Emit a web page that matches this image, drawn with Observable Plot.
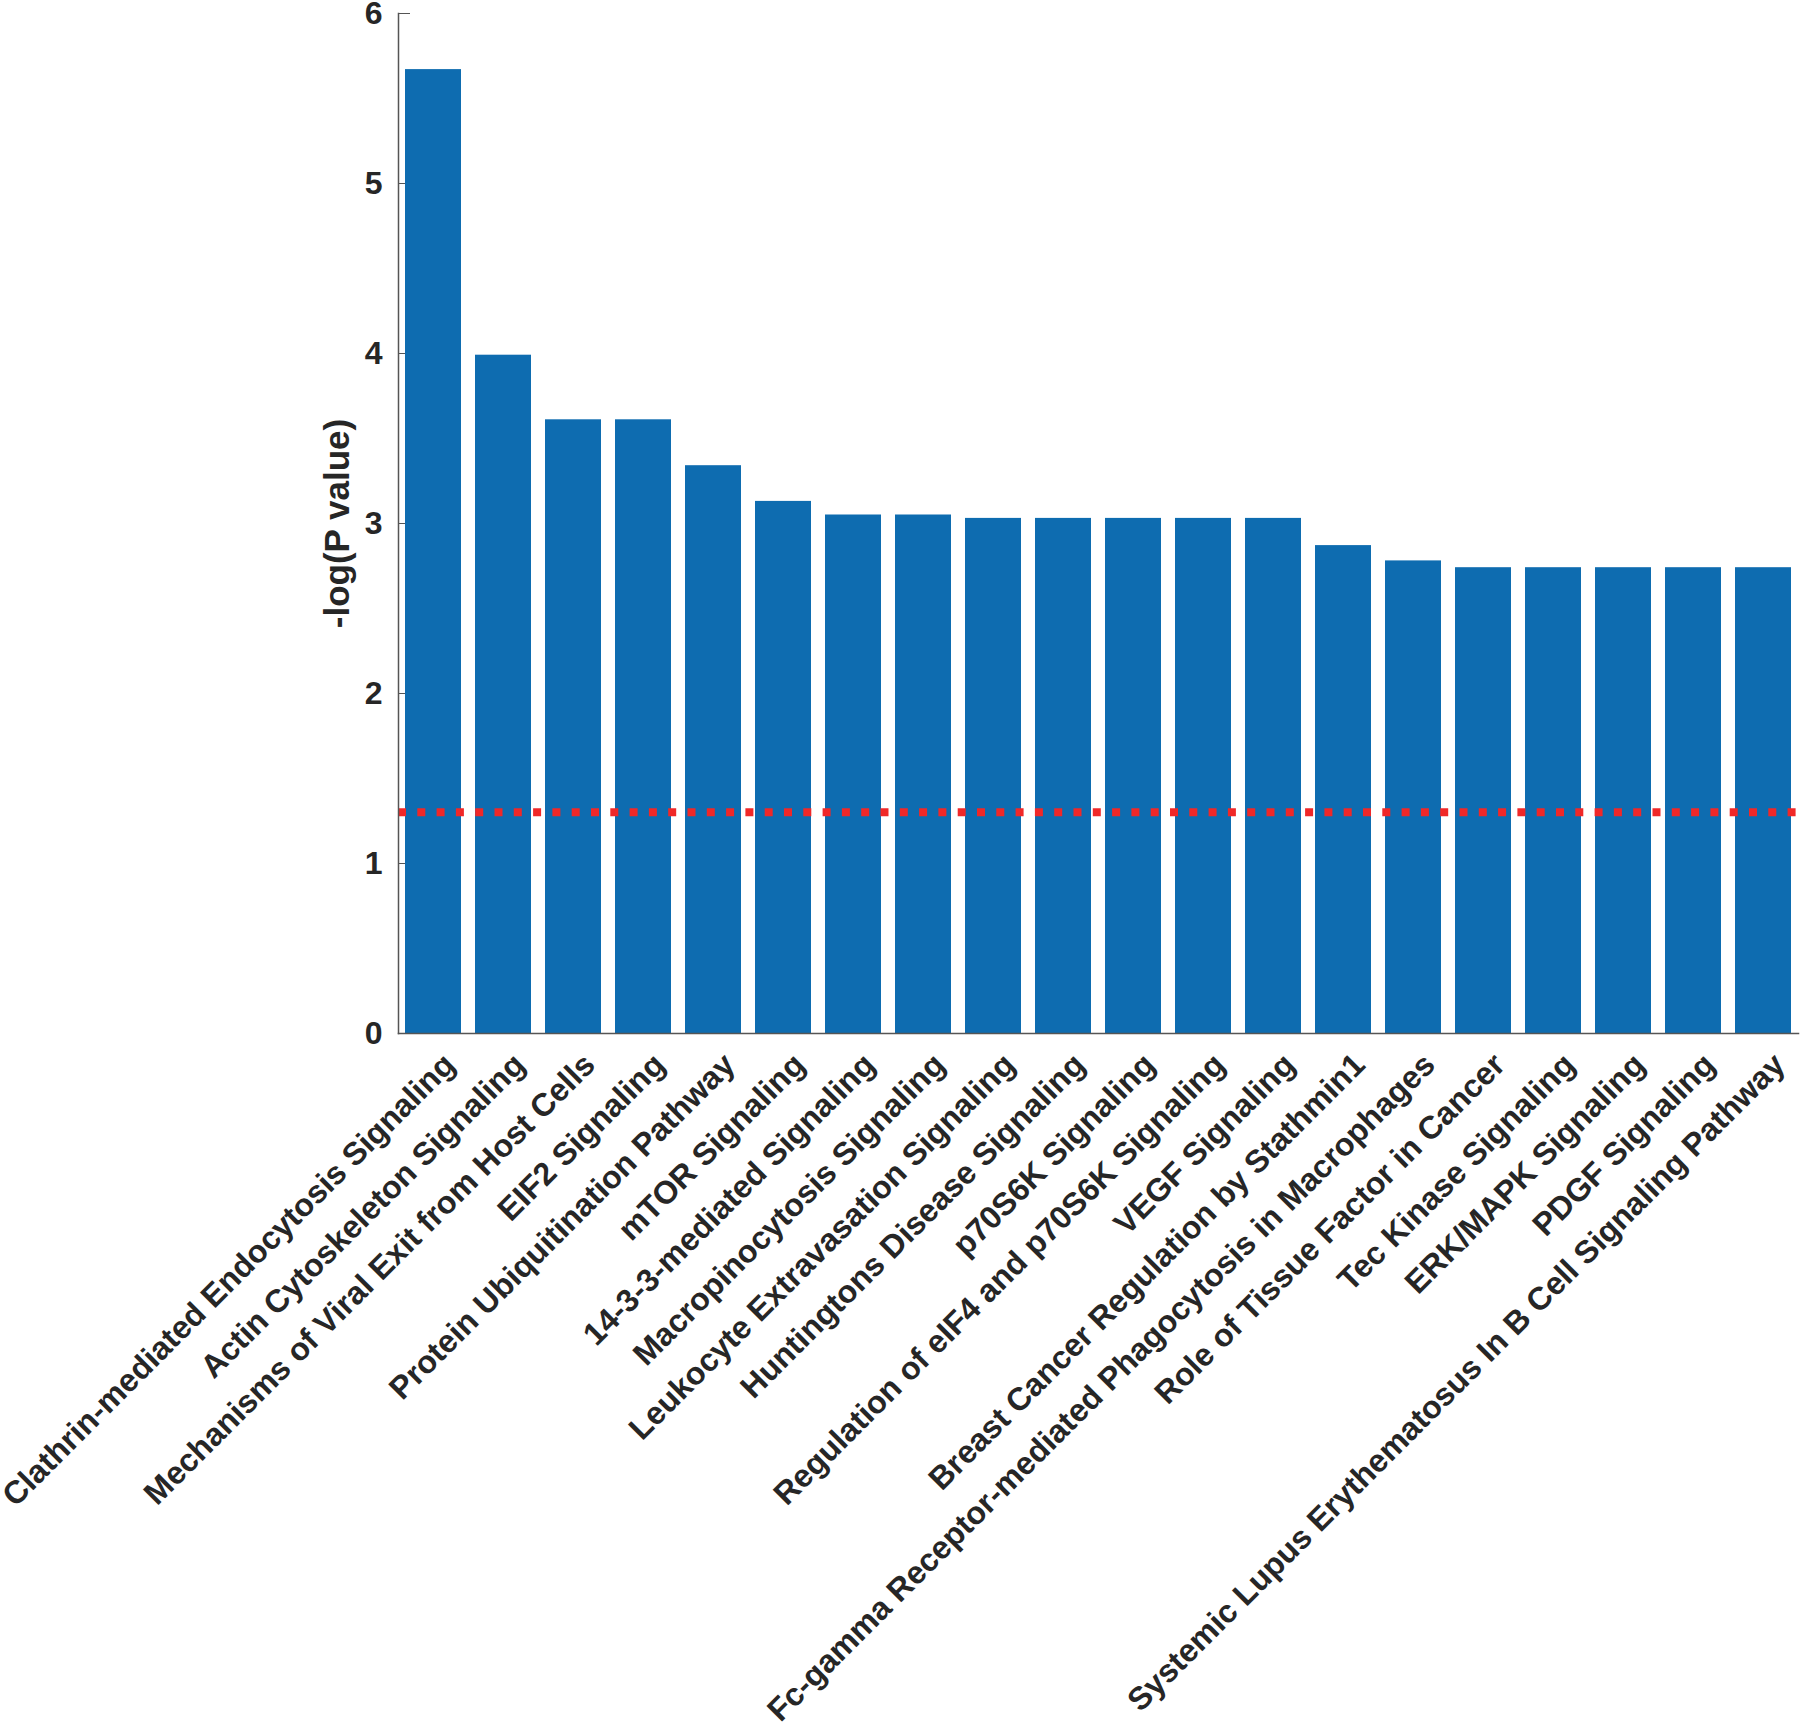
<!DOCTYPE html>
<html><head><meta charset="utf-8">
<script src="https://cdn.jsdelivr.net/npm/d3@7"></script>
<script src="https://cdn.jsdelivr.net/npm/@observablehq/plot@0.6"></script>
<style>
body{margin:0;background:#fff;}
</style></head><body><div id="chart"></div>
<script>
const pathways = [
  "Clathrin-mediated Endocytosis Signaling",
  "Actin Cytoskeleton Signaling",
  "Mechanisms of Viral Exit from Host Cells",
  "EIF2 Signaling",
  "Protein Ubiquitination Pathway",
  "mTOR Signaling",
  "14-3-3-mediated Signaling",
  "Macropinocytosis Signaling",
  "Leukocyte Extravasation Signaling",
  "Huntingtons Disease Signaling",
  "p70S6K Signaling",
  "Regulation of eIF4 and p70S6K Signaling",
  "VEGF Signaling",
  "Breast Cancer Regulation by Stathmin1",
  "Fc-gamma Receptor-mediated Phagocytosis in Macrophages",
  "Role of Tissue Factor in Cancer",
  "Tec Kinase Signaling",
  "ERK/MAPK Signaling",
  "PDGF Signaling",
  "Systemic Lupus Erythematosus In B Cell Signaling Pathway"
];
const negLogP = [5.67, 3.99, 3.61, 3.61, 3.34, 3.13, 3.05, 3.05, 3.03, 3.03, 3.03, 3.03, 3.03, 2.87, 2.78, 2.74, 2.74, 2.74, 2.74, 2.74];
const yTicks = [0, 1, 2, 3, 4, 5, 6];
const threshold = [1.301];
const yLabel = "-log(P value)";

const data = pathways.map((p, i) => ({pathway: p, value: negLogP[i]}));

const chart = Plot.plot({
  width: 1800, height: 1736,
  marginLeft: 398, marginRight: 2, marginTop: 13, marginBottom: 703,
  style: {fontFamily: "'Liberation Sans', Arial, Helvetica, sans-serif", fontWeight: "bold", fontSize: "32px", color: "#262626", background: "#fff", overflow: "visible"},
  x: {domain: pathways, paddingInner: 0.2, paddingOuter: 0.1, label: null},
  y: {domain: [0, 6], label: null},
  marks: [
    Plot.axisY(yTicks, {tickSize: -12, tickFormat: () => "", stroke: "#555", label: null}),
    Plot.barY(data, {x: "pathway", y: "value", fill: "#0e6cb0"}),
    Plot.ruleY(threshold, {stroke: "#f02828", strokeWidth: 8, strokeDasharray: "8,11.3"}),
    Plot.axisY(yTicks, {tickSize: 0, tickPadding: 16, tickFormat: d3.format("d"), label: null, fontSize: 32}),
    Plot.axisY([], {label: yLabel, labelAnchor: "center", labelArrow: "none", labelOffset: 74, fontSize: 35}),
    Plot.axisX({tickRotate: -45, tickSize: 0, tickPadding: 26, dx: 16, label: null, fontSize: 32}),
    Plot.frame({anchor: "left", stroke: "#555", strokeWidth: 1.5}),
    Plot.frame({anchor: "bottom", stroke: "#555", strokeWidth: 1.5})
  ]
});
document.getElementById("chart").appendChild(chart);
</script></body></html>
